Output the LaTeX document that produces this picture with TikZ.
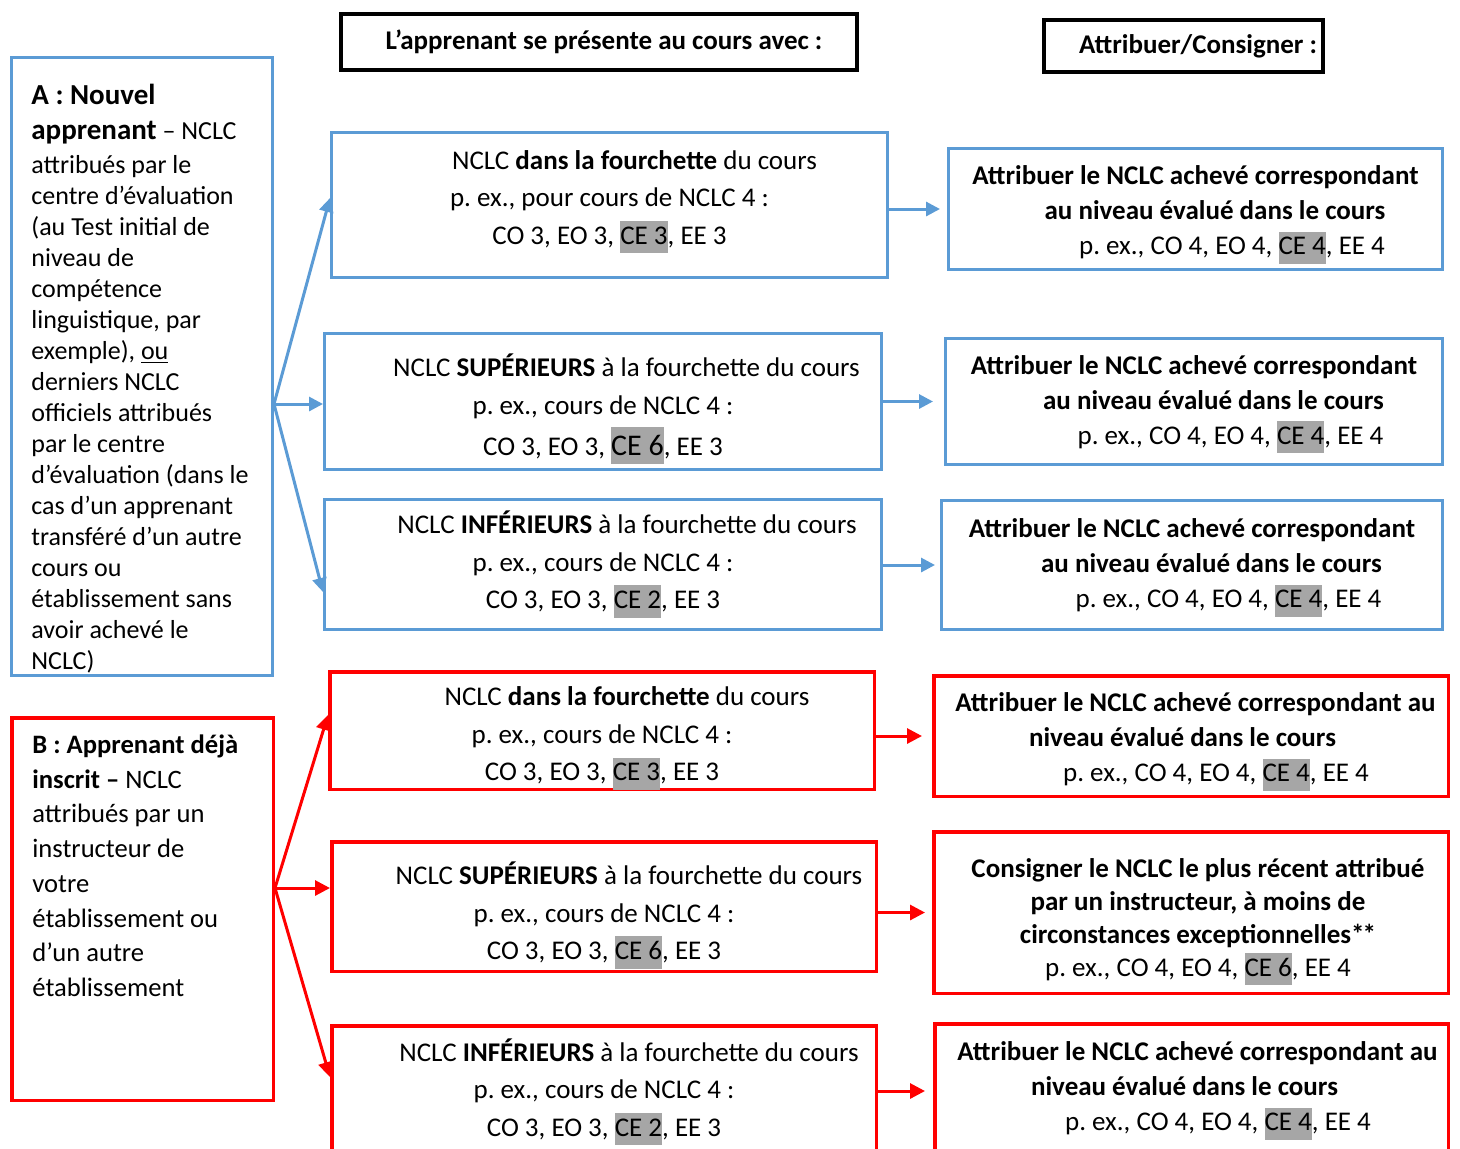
\documentclass[tikz,border=0pt]{standalone}
\usepackage{fontspec}
\setmainfont{Carlito}
\frenchspacing
\usetikzlibrary{arrows.meta}
\definecolor{nclcblue}{HTML}{5B9BD5}
\definecolor{nclcred}{HTML}{FF0000}
\definecolor{hlgray}{HTML}{A6A6A6}
\newcommand{\hl}[1]{{\setlength{\fboxsep}{0pt}\colorbox{hlgray}{\rule[-4.5pt]{0pt}{16.2pt}#1}}}
\newcommand{\hlbig}[1]{{\setlength{\fboxsep}{0pt}\colorbox{hlgray}{\rule[-4pt]{0pt}{18.5pt}\fontsize{15}{17}\selectfont #1}}}

\begin{document}
\begin{tikzpicture}[x=0.5pt, y=-0.5pt,
  every node/.style={font=\fontsize{13.5}{18.75}\selectfont},
  head/.style={draw=black, line width=2pt, inner sep=0pt, font=\fontsize{13.5}{16}\selectfont\bfseries},
  bluebox/.style={draw=nclcblue, line width=1.5pt, inner sep=0pt},
  redbox/.style={draw=nclcred, line width=1.75pt, inner sep=0pt},
  txt/.style={inner sep=0pt, align=center},
  righttxt/.style={txt, font=\fontsize{13.5}{17.5}\selectfont},
  sidetext/.style={anchor=north west, inner sep=0pt, align=left},
  bluearrow/.style={draw=nclcblue, line width=1.5pt, -{Triangle[length=7pt,width=7pt]}},
  redarrow/.style={draw=nclcred, line width=1.5pt, -{Triangle[length=7.5pt,width=7.5pt]}}]
  \useasboundingbox (0,0) rectangle (1460,1148);
  \clip (0,0) rectangle (1460,1148);

  % headers
  \node[head, minimum width=258pt, minimum height=28pt] (hcours) at (599,42)
    {\hspace*{5pt}L’apprenant se présente au cours avec~:};
  \node[head, minimum width=139.5pt, minimum height=26pt] (hattr) at (1183.5,46)
    {\hspace*{14.5pt}Attribuer/Consigner~:};

  % A : nouvel apprenant
  \node[bluebox, minimum width=130.5pt, minimum height=309pt] (na) at (142,366.5) {};
  \node[sidetext, font=\fontsize{13}{15.5}\selectfont] (natxt) at (31,84) {%
    {\fontsize{14.5}{17}\selectfont\bfseries A : Nouvel}\\[2pt]
    {\fontsize{14.5}{17}\selectfont\bfseries apprenant} – NCLC\\[1.5pt]
    attribués par le\\
    centre d’évaluation\\
    (au Test initial de\\
    niveau de\\
    compétence\\
    linguistique, par\\
    exemple), \underline{ou}\\
    derniers NCLC\\
    officiels attribués\\
    par le centre\\
    d’évaluation (dans le\\
    cas d’un apprenant\\
    transféré d’un autre\\
    cours ou\\
    établissement sans\\
    avoir achevé le\\
    NCLC)};

  \node[bluebox, minimum width=278pt, minimum height=72.5pt] (an1) at (609.5,205) {};
  \node[txt] (an1txt) at ([yshift=1.5pt]an1.center)
    {\hspace*{25pt}NCLC \textbf{dans la fourchette} du cours\\
     p. ex., pour cours de NCLC 4~:\\
     CO 3, EO 3, \hl{CE 3}, EE 3};
  \node[bluebox, minimum width=278.5pt, minimum height=68pt] (an2) at (603,401.5) {};
  \node[txt] (an2txt) at ([yshift=-3.75pt]an2.center)
    {\hspace*{23.5pt}NCLC \textbf{SUPÉRIEURS} à la fourchette du cours\\
     p. ex., cours de NCLC 4~:\\[2pt]
     CO 3, EO 3, \hlbig{CE 6}, EE 3};
  \node[bluebox, minimum width=278.5pt, minimum height=65pt] (an3) at (603,564.5) {};
  \node[txt] (an3txt) at (an3.center)
    {\hspace*{24pt}NCLC \textbf{INFÉRIEURS} à la fourchette du cours\\
     p. ex., cours de NCLC 4~:\\
     CO 3, EO 3, \hl{CE 2}, EE 3};

  \node[bluebox, minimum width=247pt, minimum height=60.5pt] (ar1) at (1195.5,209) {};
  \node[righttxt] (ar1txt) at ([yshift=-3pt]ar1.center)
    {\textbf{Attribuer le NCLC achevé correspondant}\\
     \hspace*{19.5pt}\textbf{au niveau évalué dans le cours}\\
     \hspace*{36.5pt}p. ex., CO 4, EO 4, \hl{CE 4}, EE 4};
  \node[bluebox, minimum width=248.5pt, minimum height=63pt] (ar2) at (1194,401.5) {};
  \node[righttxt] (ar2txt) at ([yshift=-1.5pt]ar2.center)
    {\textbf{Attribuer le NCLC achevé correspondant}\\
     \hspace*{19.5pt}\textbf{au niveau évalué dans le cours}\\
     \hspace*{36.5pt}p. ex., CO 4, EO 4, \hl{CE 4}, EE 4};
  \node[bluebox, minimum width=250.5pt, minimum height=64.5pt] (ar3) at (1192,565) {};
  \node[righttxt] (ar3txt) at ([yshift=-1.5pt]ar3.center)
    {\textbf{Attribuer le NCLC achevé correspondant}\\
     \hspace*{19.5pt}\textbf{au niveau évalué dans le cours}\\
     \hspace*{36.5pt}p. ex., CO 4, EO 4, \hl{CE 4}, EE 4};

  % B : apprenant deja inscrit
  \node[redbox, minimum width=130.75pt, minimum height=191.25pt] (nb) at (142.5,909) {};
  \node[sidetext, font=\fontsize{13.3}{17.35}\selectfont] (nbtxt) at (32,734.5) {%
    \textbf{B : Apprenant déjà}\\
    \textbf{inscrit –} NCLC\\
    attribués par un\\
    instructeur de\\
    votre\\
    établissement ou\\
    d’un autre\\
    établissement};

  \node[redbox, minimum width=272.25pt, minimum height=58.75pt] (bn1) at (602,730.5) {};
  \node[txt] (bn1txt) at ([yshift=-4pt]bn1.center)
    {\hspace*{25pt}NCLC \textbf{dans la fourchette} du cours\\
     p. ex., cours de NCLC 4~:\\
     CO 3, EO 3, \hl{CE 3}, EE 3};
  \node[redbox, minimum width=272.25pt, minimum height=64.75pt] (bn2) at (604,906.5) {};
  \node[txt] (bn2txt) at ([yshift=-4.5pt]bn2.center)
    {\hspace*{25pt}NCLC \textbf{SUPÉRIEURS} à la fourchette du cours\\
     p. ex., cours de NCLC 4~:\\
     CO 3, EO 3, \hl{CE 6}, EE 3};
  \node[redbox, minimum width=272.25pt, minimum height=66.25pt] (bn3) at (604,1092) {};
  \node[txt] (bn3txt) at (bn3.center)
    {\hspace*{25pt}NCLC \textbf{INFÉRIEURS} à la fourchette du cours\\
     p. ex., cours de NCLC 4~:\\
     CO 3, EO 3, \hl{CE 2}, EE 3};

  \node[redbox, minimum width=257.25pt, minimum height=60.25pt] (br1) at (1191,736) {};
  \node[righttxt] (br1txt) at ([xshift=2.25pt, yshift=-3pt]br1.center)
    {\textbf{Attribuer le NCLC achevé correspondant au}\\
     \textbf{niveau évalué dans le cours}\rule{13pt}{0pt}\\
     \hspace*{20.5pt}p. ex., CO 4, EO 4, \hl{CE 4}, EE 4};
  \node[redbox, minimum width=257.25pt, minimum height=80.75pt] (br2) at (1191,912.5) {};
  \node[txt, font=\fontsize{13.5}{16.5}\selectfont] (br2txt) at ([xshift=3.5pt, yshift=-4.75pt]br2.center)
    {\textbf{Consigner le NCLC le plus récent attribué}\\
     \textbf{par un instructeur, à moins de}\\
     \textbf{circonstances exceptionnelles*\kern-1pt*}\\
     p. ex., CO 4, EO 4, \hl{CE 6}, EE 4};
  \node[redbox, minimum width=256.75pt, minimum height=67.25pt] (br3) at (1191.5,1091) {};
  \node[righttxt] (br3txt) at ([xshift=3pt]br3.center)
    {\textbf{Attribuer le NCLC achevé correspondant au}\\
     \textbf{niveau évalué dans le cours}\rule{13pt}{0pt}\\
     \hspace*{20.5pt}p. ex., CO 4, EO 4, \hl{CE 4}, EE 4};

  % connectors
  \coordinate (afan) at ([yshift=-18.75pt]na.east);
  \coordinate (bfan) at ([yshift=10.5pt]nb.east);
  \draw[bluearrow] (afan) -- ([yshift=3.5pt]an1.west);
  \draw[bluearrow] (afan) -- (an2.west |- afan);
  \draw[bluearrow] (afan) -- ([yshift=-13.75pt]an3.west);
  \draw[redarrow] (bfan) -- ([yshift=7.75pt]bn1.west);
  \draw[redarrow] (bfan) -- (bn2.west |- bfan);
  \draw[redarrow] (bfan) -- ([yshift=7.5pt]bn3.west);

  \draw[bluearrow, shorten >=3.5pt] (an1.east |- ar1.west) -- (ar1.west);
  \draw[bluearrow, shorten >=5.5pt] (an2.east |- ar2.west) -- (ar2.west);
  \draw[bluearrow, shorten >=2.5pt] (an3.east |- ar3.west) -- (ar3.west);
  \draw[redarrow, shorten >=5pt] (bn1.east |- br1.west) -- (br1.west);
  \draw[redarrow, shorten >=3.5pt] (bn2.east |- br2.west) -- (br2.west);
  \draw[redarrow, shorten >=4pt] (bn3.east |- br3.west) -- (br3.west);
\end{tikzpicture}
\end{document}
